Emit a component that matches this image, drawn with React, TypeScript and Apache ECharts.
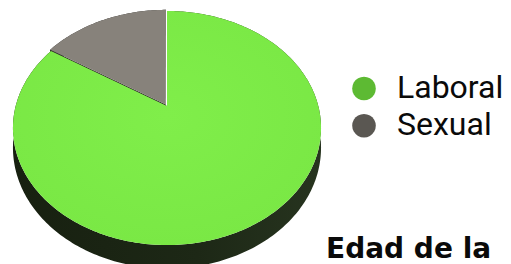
import { useEffect, useRef } from 'react';
import * as echarts from 'echarts';

const categories = ['Laboral', 'Sexual'];
const values = [84, 16];
const topColors = ['#7be846', '#87827b'];
const wallColors = ['#1c2616', '#2b2926'];
const legendColors = ['#5dba33', '#5a5752'];
const explode = [0, 0.016];
const footerText = 'Edad de la';

// projection of a tilted disk (perspective)
const CX = 167;
const CY = 106;
const RX = 151.3;
const RY = 112.9;
const K = 0.188;
const DEPTH = 19;

function proj(u: number, v: number, h: number): number[] {
  const d = 1 + K * v;
  return [CX + (RX * u) / d, CY + (-RY * v + DEPTH * h) / d];
}

const total = values.reduce((a, b) => a + b, 0);

function sliceAngles(i: number): number[] {
  let before = 0;
  for (let j = 0; j < i; j++) before += values[j];
  const s = Math.PI / 2 - (2 * Math.PI * before) / total;
  const e = s - (2 * Math.PI * values[i]) / total;
  return [s, e];
}

function offset(i: number): number[] {
  const [s, e] = sliceAngles(i);
  const m = (s + e) / 2;
  return [explode[i] * Math.cos(m), explode[i] * Math.sin(m)];
}

function arcPts(i: number, h: number, reverse: boolean): number[][] {
  const [s, e] = sliceAngles(i);
  const [ox, oy] = offset(i);
  const n = Math.max(4, Math.ceil(Math.abs(e - s) / (Math.PI / 180)));
  const pts: number[][] = [];
  for (let k = 0; k <= n; k++) {
    const t = s + ((e - s) * k) / n;
    pts.push(proj(Math.cos(t) + ox, Math.sin(t) + oy, h));
  }
  return reverse ? pts.reverse() : pts;
}

function renderWalls(params: any) {
  const i = params.dataIndex;
  const [s, e] = sliceAngles(i);
  const [ox, oy] = offset(i);
  const c0 = proj(ox, oy, 0);
  const c1 = proj(ox, oy, 1);
  const edge = (t: number) => [
    c0,
    proj(Math.cos(t) + ox, Math.sin(t) + oy, 0),
    proj(Math.cos(t) + ox, Math.sin(t) + oy, 1),
    c1,
  ];
  const wallFill =
    i === 0
      ? new echarts.graphic.LinearGradient(0, 0, 1, 0, [
          { offset: 0, color: '#172010' },
          { offset: 0.6, color: '#1d2816' },
          { offset: 1, color: '#27341f' },
        ])
      : wallColors[i];
  return {
    type: 'group',
    children: [
      { type: 'polygon', shape: { points: edge(s) }, style: { fill: wallColors[i] } },
      { type: 'polygon', shape: { points: edge(e) }, style: { fill: wallColors[i] } },
      {
        type: 'polygon',
        shape: { points: [...arcPts(i, 0, false), ...arcPts(i, 1, true)] },
        style: { fill: wallFill },
      },
    ],
  };
}

function renderTops(params: any) {
  const i = params.dataIndex;
  const [ox, oy] = offset(i);
  const c0 = proj(ox, oy, 0);
  const fill =
    i === 0
      ? new echarts.graphic.RadialGradient(0.5, 0.45, 0.7, [
          { offset: 0, color: '#80ee4a' },
          { offset: 0.8, color: '#7ae845' },
          { offset: 1, color: '#70dc3e' },
        ])
      : topColors[i];
  return {
    type: 'polygon',
    shape: { points: [c0, ...arcPts(i, 0, false)] },
    style: { fill },
  };
}

const legendY = [88.5, 125.7];

export default function App() {
  const ref = useRef<HTMLDivElement>(null);
  useEffect(() => {
    if (!ref.current) return;
    const chart = echarts.init(ref.current, null, { renderer: 'svg' });
    const graphic: any[] = [];
    categories.forEach((c, i) => {
      graphic.push({
        type: 'circle',
        shape: { cx: 364, cy: legendY[i], r: 11.8 },
        style: { fill: legendColors[i] },
      });
      graphic.push({
        type: 'text',
        x: 397,
        y: legendY[i] - 1.5,
        style: {
          text: c,
          fontFamily: 'Roboto',
          fontSize: 32,
          fill: '#0a0a0a',
          verticalAlign: 'middle',
        },
      });
    });
    graphic.push({
      type: 'text',
      x: 326,
      y: 248,
      style: {
        text: footerText,
        fontFamily: 'DejaVu Sans',
        fontWeight: 'bold',
        fontSize: 28,
        fill: '#0a0a0a',
        verticalAlign: 'middle',
      },
    });
    chart.setOption({
      animation: false,
      backgroundColor: '#ffffff',
      series: [
        {
          type: 'custom',
          name: 'walls',
          coordinateSystem: 'none',
          silent: true,
          z: 1,
          data: values,
          renderItem: renderWalls,
        },
        {
          type: 'custom',
          name: 'tops',
          coordinateSystem: 'none',
          silent: true,
          z: 2,
          data: values,
          renderItem: renderTops,
        },
      ],
      graphic,
    });
    return () => chart.dispose();
  }, []);
  return (
    <div
      ref={ref}
      style={{ position: 'absolute', left: 0, top: 0, width: 511, height: 264 }}
    />
  );
}
